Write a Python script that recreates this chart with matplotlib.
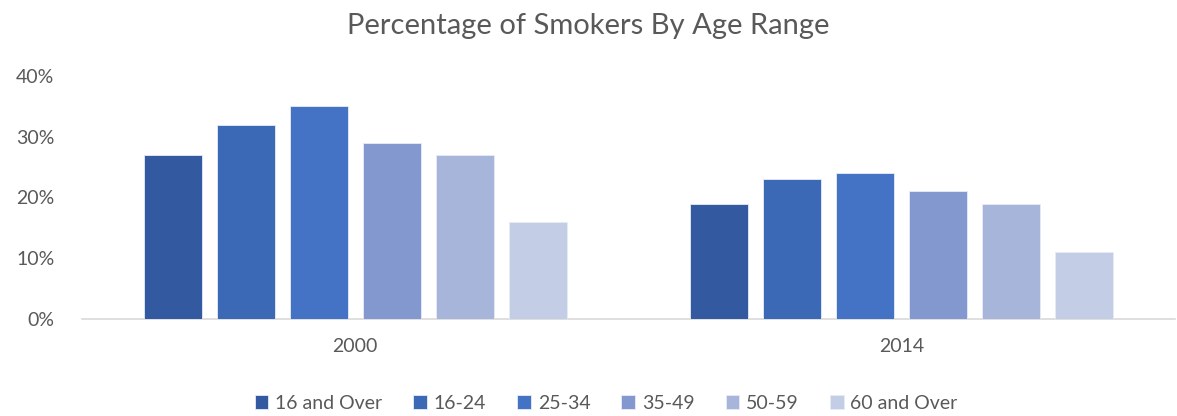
import matplotlib
matplotlib.use("Agg")
import matplotlib.pyplot as plt
import numpy as np
from matplotlib.ticker import FuncFormatter

years = ["2000", "2014"]
age_ranges = ["16 and Over", "16-24", "25-34", "35-49", "50-59", "60 and Over"]
values_2000 = [27, 32, 35, 29, 27, 16]
values_2014 = [19, 23, 24, 21, 19, 11]
colors = ["#335AA1", "#3C69B5", "#4472C4", "#8298CF", "#A8B5DA", "#C4CDE6"]

plt.rcParams['font.family'] = ['Lato', 'DejaVu Sans']

fig = plt.figure(figsize=(11.77, 4.16), dpi=100)
ax = fig.add_axes([0.0697, 0.2332, 0.9283, 0.5841])

x = np.arange(len(years))
step = 0.1337
width = 0.106
data = np.array([values_2000, values_2014])
for i, (lab, c) in enumerate(zip(age_ranges, colors)):
    offs = (i - 2.5) * step
    ax.bar(x + offs, data[:, i], width=width, color=c, label=lab,
           edgecolor="#E8ECF5", linewidth=0.6, zorder=3)

ax.set_xlim(-0.5, 1.5)
ax.set_ylim(0, 40)
ax.set_yticks([0, 10, 20, 30, 40])
ax.yaxis.set_major_formatter(FuncFormatter(lambda v, p: f"{int(v)}%"))
ax.set_xticks(x)
ax.set_xticklabels(years)
for s in ["top", "right", "left"]:
    ax.spines[s].set_visible(False)
ax.spines["bottom"].set_color("#D9D9D9")
ax.spines["bottom"].set_linewidth(1.2)
ax.tick_params(axis="both", length=0, labelsize=14, labelcolor="#595959")
ax.tick_params(axis="y", pad=20)
ax.tick_params(axis="x", pad=14)

fig.text(0.5, 0.937, "Percentage of Smokers By Age Range", ha="center", va="center",
         fontsize=21, color="#595959")

fig.legend(loc="center", bbox_to_anchor=(0.515, 0.031), ncol=6, frameon=False,
           fontsize=14, labelcolor="#595959", handlelength=0.7, handleheight=0.7,
           handletextpad=0.35, columnspacing=1.6)

fig.savefig("out.png", dpi=100)
